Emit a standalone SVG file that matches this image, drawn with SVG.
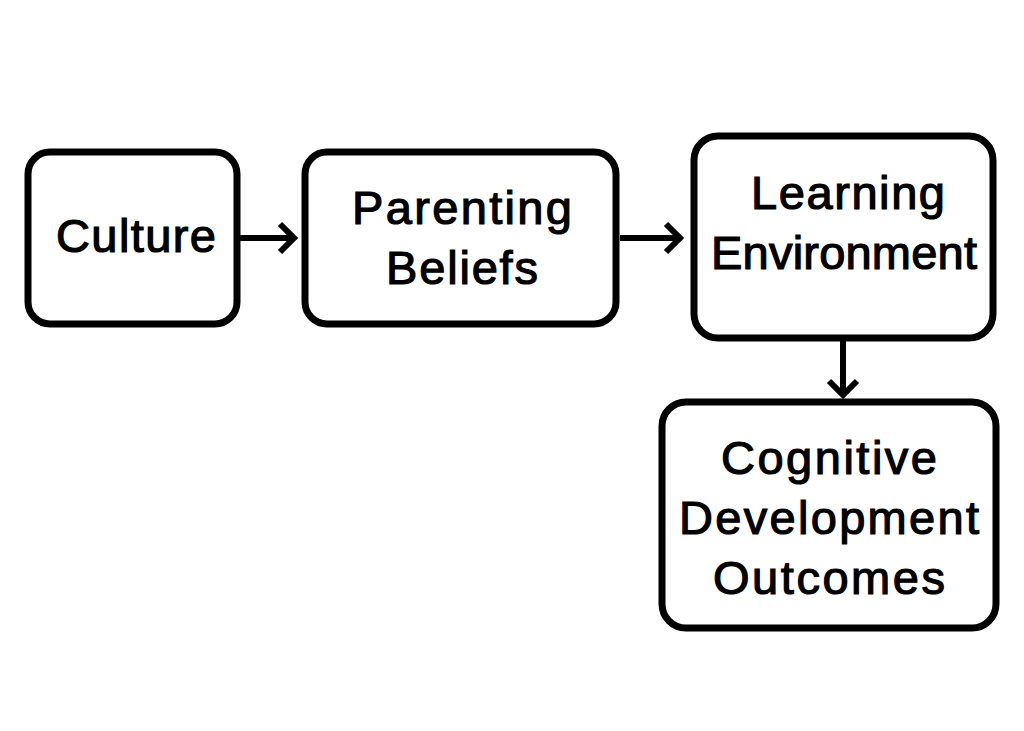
<svg xmlns="http://www.w3.org/2000/svg" width="1024" height="731" viewBox="0 0 1024 731">
<defs><style>
.n{fill:#fff;stroke:#000;stroke-width:7}
.t{font-family:"Liberation Sans",Arial,sans-serif;font-size:47px;fill:#000;stroke:#000;stroke-width:1.2;text-anchor:middle}
.c{fill:none;stroke:#000;stroke-width:6}
</style></defs>
<rect width="1024" height="731" fill="#fff"/>
<g id="culture"><rect class="n" x="28" y="152" width="209" height="172" rx="22"/><text class="t" x="136" y="252" textLength="160">Culture</text></g>
<g id="parenting"><rect class="n" x="305" y="152" width="311" height="172" rx="22"/><text class="t" x="462" y="224" textLength="220">Parenting</text><text class="t" x="462" y="284" textLength="152">Beliefs</text></g>
<g id="learning"><rect class="n" x="694" y="136" width="299" height="202" rx="24"/><text class="t" x="848" y="209" textLength="194">Learning</text><text class="t" x="844" y="269" textLength="266">Environment</text></g>
<g id="cognitive"><rect class="n" x="662" y="402" width="334" height="226" rx="24"/><text class="t" x="829" y="474" textLength="216">Cognitive</text><text class="t" x="829" y="534" textLength="300">Development</text><text class="t" x="829" y="594" textLength="232">Outcomes</text></g>
<g id="connectors">
<path class="c" d="M240 238H294M280 224L294 238L280 252"/>
<path class="c" d="M620 238H680M666 224L680 238L666 252"/>
<path class="c" d="M843 341V395M829 381L843 395L857 381"/>
</g>
</svg>
